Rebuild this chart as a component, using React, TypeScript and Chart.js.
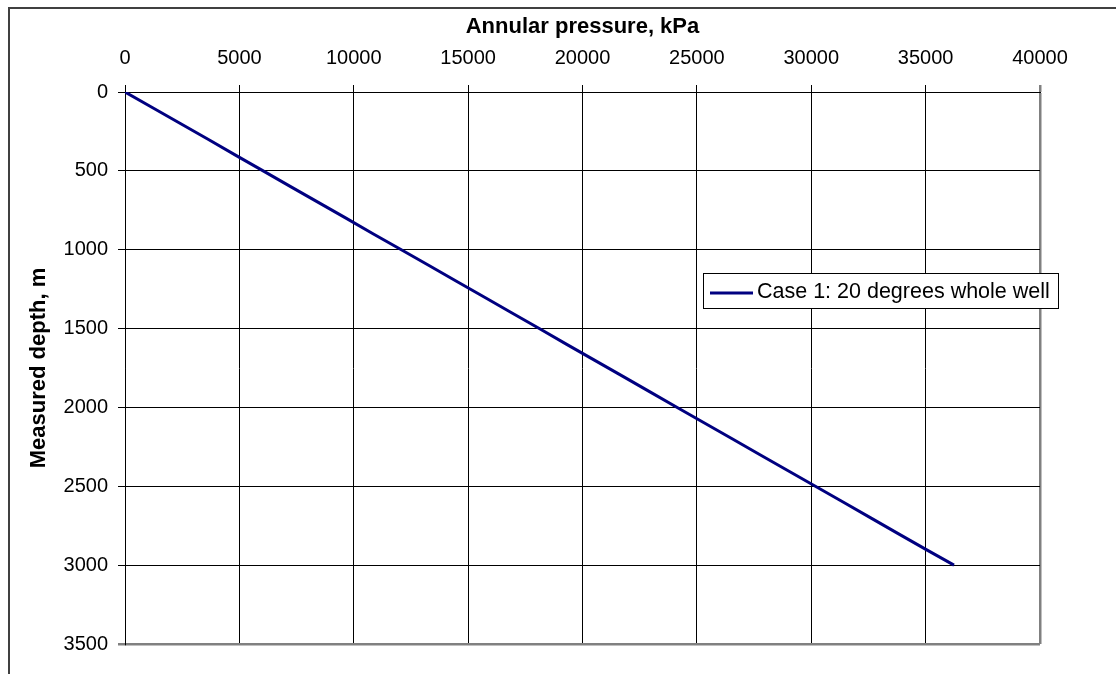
import React, { useEffect, useRef } from "react";
import { Chart, registerables } from "chart.js";

Chart.register(...registerables);

const seriesLabel = "Case 1: 20 degrees whole well";
const depthM = [0, 100, 200, 300, 400, 500, 600, 700, 800, 900, 1000, 1100, 1200, 1300, 1400, 1500, 1600, 1700, 1800, 1900, 2000, 2100, 2200, 2300, 2400, 2500, 2600, 2700, 2800, 2900, 3000];
const pressureKPa = [0, 1210, 2420, 3630, 4830, 6040, 7240, 8450, 9660, 10860, 12080, 13290, 14490, 15700, 16900, 18110, 19310, 20520, 21730, 22930, 24140, 25350, 26560, 27760, 28970, 30180, 31390, 32600, 33800, 35010, 36240];
const xTitle = "Annular pressure, kPa";
const yTitle = "Measured depth, m";

const FONT = "'Liberation Sans', Arial, sans-serif";

export default function App() {
  const ref = useRef<HTMLCanvasElement | null>(null);
  useEffect(() => {
    if (!ref.current) return;
    const deco = {
      id: "deco",
      beforeDraw(chart: any) {
        const c = chart.ctx;
        c.save();
        c.fillStyle = "#fff";
        c.fillRect(0, 0, chart.width, chart.height);
        c.restore();
      },
      afterDraw(chart: any) {
        const c = chart.ctx;
        const a = chart.chartArea;
        c.save();
        // outer frame
        c.strokeStyle = "#404040";
        c.lineWidth = 2;
        c.beginPath();
        c.moveTo(9, chart.height);
        c.lineTo(9, 8);
        c.lineTo(chart.width, 8);
        c.stroke();
        // titles
        c.fillStyle = "#000";
        c.font = `bold 22px ${FONT}`;
        c.textAlign = "center";
        c.textBaseline = "alphabetic";
        c.fillText(xTitle, (a.left + a.right) / 2, 33);
        c.save();
        c.translate(45, (a.top + a.bottom) / 2);
        c.rotate(-Math.PI / 2);
        c.fillText(yTitle, 0, 0);
        c.restore();
        // legend
        const lx = 703, ly = 273, lw = 355, lh = 35;
        c.fillStyle = "#fff";
        c.fillRect(lx, ly, lw, lh);
        c.strokeStyle = "#000";
        c.lineWidth = 1;
        c.strokeRect(lx + 0.5, ly + 0.5, lw, lh);
        const ds = chart.data.datasets[0];
        c.strokeStyle = ds.borderColor;
        c.lineWidth = 3;
        c.beginPath();
        c.moveTo(710, 293);
        c.lineTo(753, 293);
        c.stroke();
        c.fillStyle = "#000";
        c.font = `21.5px ${FONT}`;
        c.textAlign = "left";
        c.fillText(ds.label, 757, 298);
        c.restore();
      },
    };
    const chart = new Chart(ref.current, {
      type: "scatter",
      data: {
        datasets: [
          {
            label: seriesLabel,
            data: depthM.map((d, i) => ({ x: pressureKPa[i], y: d })),
            showLine: true,
            borderColor: "#000080",
            backgroundColor: "#000080",
            borderWidth: 3,
            pointRadius: 0,
            tension: 0,
          },
        ],
      },
      options: {
        responsive: false,
        animation: false,
        layout: { padding: { left: 0, top: 0, right: 76, bottom: 30 } },
        plugins: { legend: { display: false }, tooltip: { enabled: false } },
        scales: {
          x: {
            type: "linear",
            position: "top",
            min: 0,
            max: 40000,
            ticks: {
              stepSize: 5000,
              color: "#000",
              font: { size: 20, family: FONT },
              padding: 15,
              maxRotation: 0,
              callback: (v: any) => String(v),
            },
            grid: {
              color: (ctx: any) => (ctx.tick && ctx.tick.value === 40000 ? "#808080" : "#000"),
              lineWidth: (ctx: any) => (ctx.tick && ctx.tick.value === 40000 ? 2.5 : 1),
              tickLength: 7,
            },
            border: { color: "#000", width: 1 },
            afterFit: (s: any) => { s.height = 92; },
          },
          y: {
            type: "linear",
            reverse: true,
            min: 0,
            max: 3500,
            ticks: {
              stepSize: 500,
              color: "#000",
              font: { size: 20, family: FONT },
              padding: 10,
              callback: (v: any) => String(v),
            },
            grid: {
              color: (ctx: any) => (ctx.tick && ctx.tick.value === 3500 ? "#808080" : "#000"),
              lineWidth: (ctx: any) => (ctx.tick && ctx.tick.value === 3500 ? 2.5 : 1),
              tickLength: 7,
            },
            border: { color: "#000", width: 1 },
            afterFit: (s: any) => { s.width = 125; },
          },
        },
      },
      plugins: [deco],
    });
    return () => chart.destroy();
  }, []);
  return (
    <div style={{ position: "absolute", left: 0, top: 0, width: 1116, height: 674 }}>
      <canvas ref={ref} width={1116} height={674} style={{ display: "block" }} />
    </div>
  );
}
